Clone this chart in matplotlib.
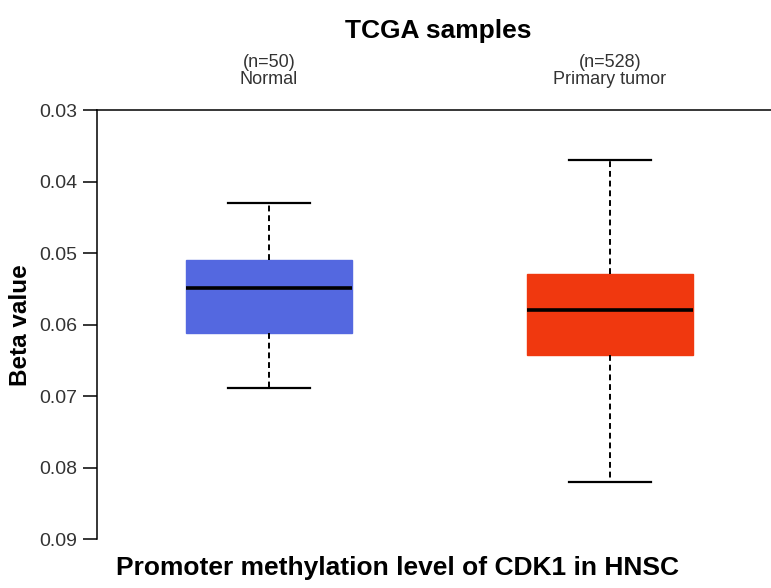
import matplotlib
matplotlib.use("Agg")
import matplotlib.pyplot as plt

groups = ["Normal", "Primary tumor"]
counts = ["(n=50)", "(n=528)"]
whislo = [0.0430, 0.0370]
q1 = [0.0510, 0.0529]
med = [0.0549, 0.0580]
q3 = [0.0612, 0.0643]
whishi = [0.0689, 0.0820]
colors = ["#5468e0", "#f0380f"]
yticks = [0.03, 0.04, 0.05, 0.06, 0.07, 0.08, 0.09]

plt.rcParams["font.family"] = ["Liberation Sans", "DejaVu Sans"]

fig = plt.figure(figsize=(7.71, 5.88), dpi=100)
ax = fig.add_axes([0.1258, 0.0833, 0.8742, 0.7296])

stats = []
for i in range(len(groups)):
    stats.append(dict(whislo=whislo[i], q1=q1[i], med=med[i], q3=q3[i],
                      whishi=whishi[i], fliers=[], label=groups[i]))

bp = ax.bxp(stats, positions=[1, 2], widths=0.487, capwidths=0.24,
            patch_artist=True, showfliers=False,
            whiskerprops=dict(color="black", linestyle=(0, (3, 2)), linewidth=1.4),
            capprops=dict(color="black", linewidth=1.6),
            medianprops=dict(color="black", linewidth=2.6))
for patch, c in zip(bp["boxes"], colors):
    patch.set_facecolor(c)
    patch.set_edgecolor(c)

# the picture is flipped top-to-bottom, so the axis runs downward
ax.set_ylim(0.09, 0.03)
ax.set_xlim(0.496, 2.472)
ax.set_yticks(yticks)
ax.set_yticklabels([f"{t:.2f}" for t in yticks], fontsize=14, color="#333333")
ax.tick_params(axis="y", length=10, width=1.1, pad=4)

ax.xaxis.tick_top()
ax.set_xticks([1, 2])
ax.set_xticklabels([f"{n}\n{g}" for n, g in zip(counts, groups)],
                   fontsize=13, color="#333333", linespacing=0.95)
ax.tick_params(axis="x", length=0, pad=16)

ax.spines["right"].set_visible(False)
ax.spines["bottom"].set_visible(False)
ax.spines["left"].set_linewidth(1.1)
ax.spines["top"].set_linewidth(1.1)

fig.text(0.026, 0.447, "Beta value", rotation=90, ha="center", va="center",
         fontsize=17.5, fontweight="bold")
fig.text(0.569, 0.947, "TCGA samples", ha="center", va="center",
         fontsize=19, fontweight="bold")
fig.text(0.516, 0.034, "Promoter methylation level of CDK1 in HNSC",
         ha="center", va="center", fontsize=19, fontweight="bold")

fig.savefig("out.png", dpi=100)
